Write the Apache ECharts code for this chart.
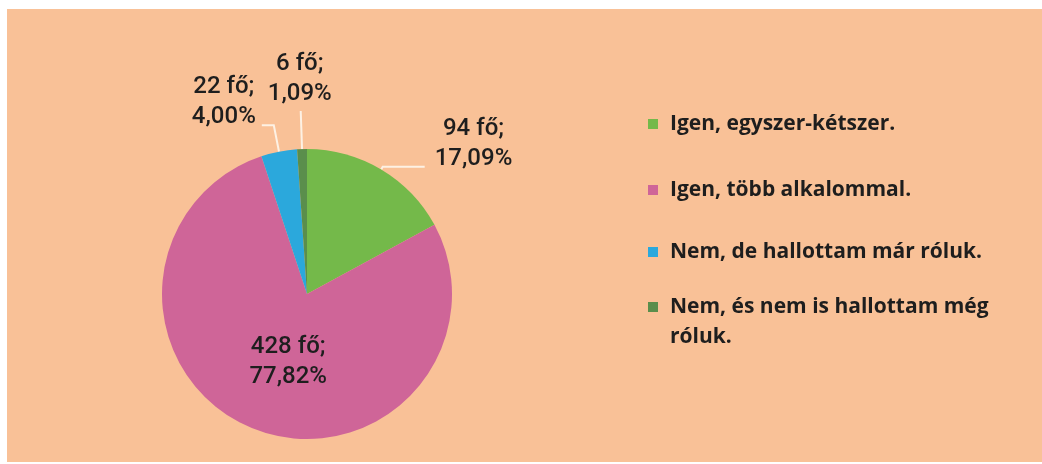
<!DOCTYPE html>
<html><head><meta charset="utf-8">
<script src="https://cdn.jsdelivr.net/npm/echarts@6/dist/echarts.min.js"></script>
<style>html,body{margin:0;padding:0;background:#fff}#c{width:1042px;height:464px}</style>
</head><body><div id="c"></div>
<script>
const categories = ['Igen, egyszer-kétszer.', 'Igen, több alkalommal.', 'Nem, de hallottam már róluk.', 'Nem, és nem is hallottam még róluk.'];
const counts = [94, 428, 22, 6];
const unit = 'fő';

const colors = ['#74b94a', '#cf6598', '#2ba8dc', '#5a8e4c'];
const labelOpts = [
  {distanceToLabelLine: 10, padding: [0, 0, 46, 0]},
  {position: 'inside', padding: [0, 0, 4, 18]},
  {distanceToLabelLine: 6, padding: [0, 0, 46, 0]},
  {distanceToLabelLine: 0, padding: [0, 0, 66, 0]}
];
const lineOpts = [
  {length: 3, length2: 42},
  {show: false},
  {length: 27, length2: 12},
  {length: 37, length2: 1}
];
const legendTops = [109, 175, 237, 262];

const chart = echarts.init(document.getElementById('c'));
const textColor = '#1e1e1e';
chart.setOption({
  backgroundColor: '#ffffff',
  animation: false,
  graphic: {elements: [{type: 'rect', z: -10, silent: true, shape: {x: 7, y: 9, width: 1035, height: 453}, style: {fill: '#f9c197'}}]},
  legend: categories.map((name, i) => ({
    data: [name], orient: 'vertical', left: 648, top: legendTops[i], padding: 0,
    itemWidth: 10, itemHeight: 10, icon: 'rect', selectedMode: false,
    formatter: n => (i === 3 ? '\n' + n.replace(' róluk.', '\nróluk.') : n),
    textStyle: {fontFamily: 'Open Sans', fontWeight: 'bold', fontSize: 21, lineHeight: 30, color: textColor,
      padding: [0, 0, 0, 7]}
  })),
  series: [{
    type: 'pie',
    center: [307, 294],
    radius: 145,
    startAngle: 90,
    clockwise: true,
    avoidLabelOverlap: false,
    emphasis: {disabled: true},
    itemStyle: {borderWidth: 0},
    label: {
      show: true,
      formatter: p => '{c|' + p.value + ' ' + unit + ';}\n{c|' + p.percent.toFixed(2).replace('.', ',') + '%}',
      rich: {c: {align: 'center', fontFamily: 'Roboto', fontWeight: 500, fontSize: 24, lineHeight: 30, color: textColor}},
      color: textColor, textBorderWidth: 0
    },
    labelLine: {show: true, lineStyle: {color: '#fdf1e4', width: 2}},
    labelLayout: p => (p.dataIndex === 3 ? {align: 'center'} : {}),
    data: categories.map((name, i) => ({
      name, value: counts[i], itemStyle: {color: colors[i]}, label: labelOpts[i], labelLine: lineOpts[i]
    }))
  }]
});
</script></body></html>
